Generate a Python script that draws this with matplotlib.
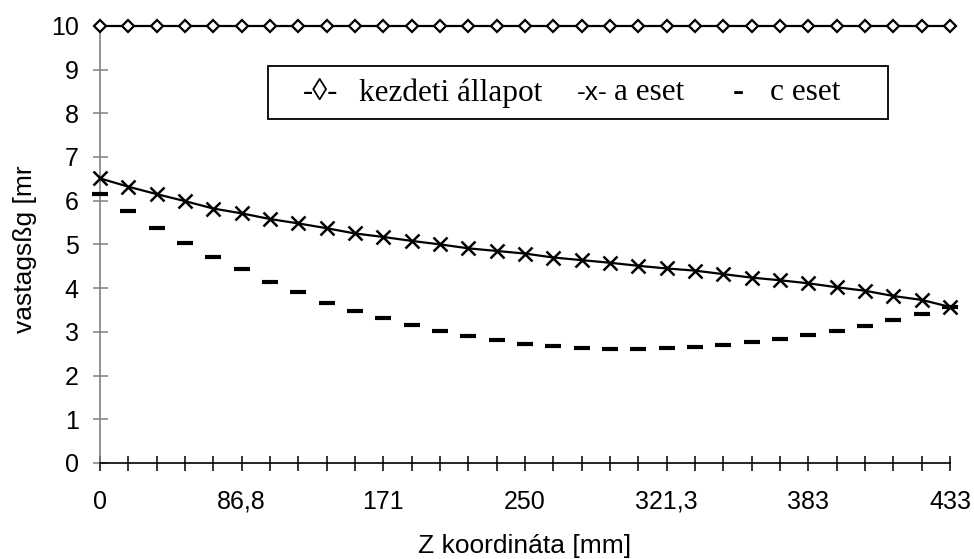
import matplotlib
matplotlib.use("Agg")
import matplotlib.pyplot as plt
from matplotlib.patches import Rectangle

# ---- data ----
kezdeti = [10.0] * 31
a_eset = [6.51, 6.32, 6.15, 5.99, 5.82, 5.71, 5.58, 5.48, 5.37, 5.25,
          5.17, 5.08, 5.00, 4.91, 4.85, 4.79, 4.70, 4.64, 4.58, 4.51,
          4.45, 4.40, 4.32, 4.24, 4.18, 4.11, 4.02, 3.94, 3.82, 3.73, 3.57]
c_eset = [6.16, 5.76, 5.38, 5.04, 4.72, 4.43, 4.14, 3.90, 3.67, 3.48,
          3.31, 3.15, 3.02, 2.90, 2.81, 2.73, 2.67, 2.64, 2.61, 2.61,
          2.62, 2.66, 2.70, 2.76, 2.83, 2.93, 3.03, 3.14, 3.26, 3.40, 3.57]
z_labels = ["0", "86,8", "171", "250", "321,3", "383", "433"]
label_step = 5
y_ticks = list(range(0, 11))

n = len(a_eset)
idx = list(range(n))

W, H = 974, 559
fig = plt.figure(figsize=(W / 100, H / 100), dpi=100)
ax = fig.add_axes([100 / W, 1 - 463 / H, 850 / W, (463 - 25.8) / H])

ax.plot(idx, kezdeti, color="black", lw=1.6, marker="D", ms=6.5,
        mfc="white", mec="black", mew=1.6, clip_on=False, zorder=3)
ax.plot(idx, a_eset, color="black", lw=1.6, marker="x", ms=9.5,
        mew=1.8, clip_on=False, zorder=3)
ax.plot(idx, c_eset, linestyle="none", marker="_", ms=11, mew=3.0,
        color="black", clip_on=False, zorder=3)

ax.set_xlim(0, n - 1)
ax.set_ylim(0, 10)

for s in ("top", "right"):
    ax.spines[s].set_visible(False)
ax.spines["left"].set_color("#808080")
ax.spines["left"].set_linewidth(1.2)
ax.spines["bottom"].set_color("black")
ax.spines["bottom"].set_linewidth(1.2)

ax.set_xticks(idx)
xl = [""] * n
for k, lab in enumerate(z_labels):
    xl[k * label_step] = lab
ax.set_xticklabels(xl)
ax.set_yticks(y_ticks)
ax.set_yticklabels([str(v) for v in y_ticks])

tick_font = "Liberation Sans"
ax.tick_params(axis="x", direction="inout", length=10.8, width=1.1,
               color="black", pad=14, labelsize=18)
ax.tick_params(axis="y", direction="inout", length=10.8, width=1.1,
               color="#808080", pad=10, labelsize=18)
for lab in ax.get_xticklabels() + ax.get_yticklabels():
    lab.set_fontfamily(tick_font)

fig.text(525 / W, 1 - 546 / H, "Z koordináta [mm]", ha="center", va="center",
         fontsize=19, family=tick_font)
fig.text(25 / W, 1 - 249 / H, "vastagsßg [mr", ha="center", va="center",
         rotation=90, fontsize=19, family=tick_font)

# legend box (text legend)
x0, x1, y0, y1 = 268, 888, 66, 119
fig.patches.append(Rectangle((x0 / W, 1 - y1 / H), (x1 - x0) / W, (y1 - y0) / H,
                             transform=fig.transFigure, fill=False,
                             edgecolor="black", lw=1.3))
yc = 1 - 93 / H
serif = ["Liberation Serif", "DejaVu Serif"]
fig.text(303 / W, yc, "-◊-", ha="left", va="center", fontsize=22, family=serif)
fig.text(359 / W, yc, "kezdeti állapot", ha="left", va="center", fontsize=22.5, family=serif)
fig.text(577 / W, yc, "-x-", ha="left", va="center", fontsize=19,
         family=["Liberation Sans", "DejaVu Sans"])
fig.text(614 / W, yc, "a eset", ha="left", va="center", fontsize=22.5, family=serif)
fig.text(733 / W, yc, "-", ha="left", va="center", fontsize=24, family=serif, weight="bold")
fig.text(770 / W, yc, "c eset", ha="left", va="center", fontsize=22.5, family=serif)

fig.savefig("out.png", dpi=100)
